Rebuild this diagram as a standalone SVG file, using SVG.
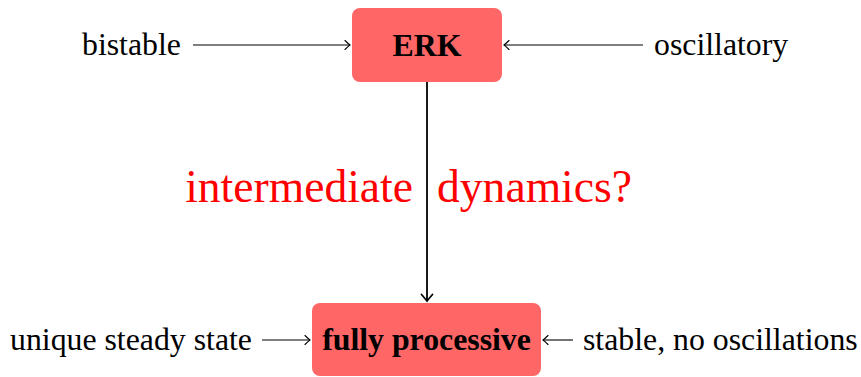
<svg xmlns="http://www.w3.org/2000/svg" width="861" height="377" viewBox="0 0 861 377">
<style>
.box{fill:#FF6666;stroke:none}
.lbl{font-family:"Liberation Serif","Times New Roman",serif;font-size:31.8px;fill:#000}
.b{font-weight:bold;text-anchor:middle}
.red{font-family:"Liberation Serif","Times New Roman",serif;font-size:45.6px;fill:#FF0000}
.edge{stroke:#000;stroke-width:1.1;fill:none}
.thick{stroke:#000;stroke-width:1.8;fill:none}
</style>
<defs>
<marker id="to" markerUnits="userSpaceOnUse" markerWidth="14" markerHeight="14" refX="10" refY="7" orient="auto" overflow="visible">
<path d="M5 2.5 Q8.5 6 10 7 Q8.5 8 5 11.5" fill="none" stroke="#000" stroke-width="1.1" stroke-linecap="round"/>
</marker>
<marker id="toThick" markerUnits="userSpaceOnUse" markerWidth="16" markerHeight="16" refX="10" refY="7" orient="auto" overflow="visible">
<path d="M3.5 1.5 Q8 5.5 10 7 Q8 8.5 3.5 12.5" fill="none" stroke="#000" stroke-width="1.8" stroke-linecap="round"/>
</marker>
</defs>
<g id="connectors">
<line class="edge" x1="193" y1="45" x2="350" y2="45" marker-end="url(#to)"/>
<line class="edge" x1="643" y1="45" x2="504" y2="45" marker-end="url(#to)"/>
<line class="edge" x1="262" y1="340" x2="310" y2="340" marker-end="url(#to)"/>
<line class="edge" x1="573" y1="340" x2="543" y2="340" marker-end="url(#to)"/>
<line class="thick" x1="427" y1="82" x2="427" y2="301" marker-end="url(#toThick)"/>
</g>
<g id="erk">
<rect class="box" x="352" y="8" width="150" height="74" rx="8"/>
<text class="lbl b" x="427" y="56">ERK</text>
</g>
<g id="fully-processive">
<rect class="box" x="312" y="303" width="229" height="73" rx="8"/>
<text class="lbl b" x="426.5" y="350">fully processive</text>
</g>
<g id="bistable"><text class="lbl" x="82" y="55">bistable</text></g>
<g id="oscillatory"><text class="lbl" x="654" y="55">oscillatory</text></g>
<g id="unique"><text class="lbl" x="10" y="350">unique steady state</text></g>
<g id="stable"><text class="lbl" x="583" y="350">stable, no oscillations</text></g>
<g id="question">
<text class="red" x="413" y="202" text-anchor="end">intermediate</text>
<text class="red" x="437" y="202">dynamics?</text>
</g>
</svg>
